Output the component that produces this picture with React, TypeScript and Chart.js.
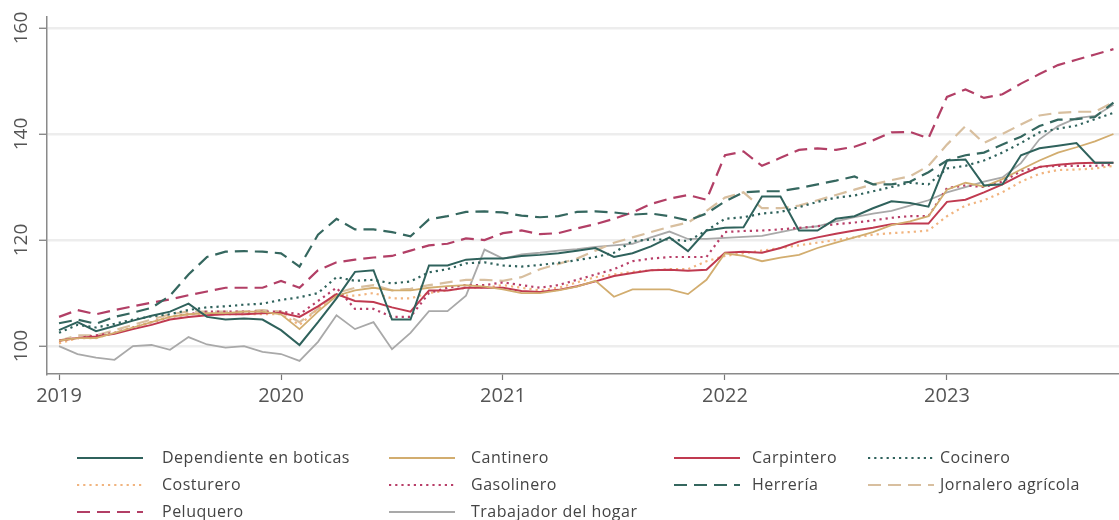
import React, { useEffect, useRef } from "react";
import { Chart, registerables } from "chart.js";

Chart.register(...registerables);

// ---- data ----
const firstYear = 2019;
const yearTicks = [2019, 2020, 2021, 2022, 2023];
const yTicks = [100, 120, 140, 160];

const seriesNames = [
  "Dependiente en boticas",
  "Cantinero",
  "Carpintero",
  "Cocinero",
  "Costurero",
  "Gasolinero",
  "Herrería",
  "Jornalero agrícola",
  "Peluquero",
  "Trabajador del hogar",
];

const dependiente = [
  103, 104.5, 102.8, 103.8, 104.8, 105.7, 106.5, 108, 105.5, 105,
  105.2, 105, 103, 100.2, 104.5, 109, 114, 114.3, 105, 105,
  115.2, 115.2, 116.3, 116.5, 116.5, 117, 117.2, 117.5, 118, 118.5,
  116.8, 117.5, 118.8, 120.5, 117.9, 121.8, 122.3, 122.4, 128.2, 128.2,
  121.8, 121.8, 124, 124.5, 126, 127.3, 127, 126.3, 135, 135.2,
  130.3, 130.5, 136, 137.3, 137.8, 138.3, 134.6, 134.6,
];
const cantinero = [
  101, 101.5, 101.5, 102.5, 103.5, 104.5, 105.5, 106, 106.2, 106.2,
  106.5, 106.5, 106, 103.2, 106.5, 109.5, 110.5, 111, 110.5, 110.5,
  111, 111.3, 111.5, 111.2, 110.7, 110, 110, 110.5, 111.2, 112.3,
  109.3, 110.7, 110.7, 110.7, 109.8, 112.5, 117.5, 117, 116, 116.7,
  117.2, 118.5, 119.5, 120.5, 121.5, 122.8, 123.5, 124.5, 129.5, 130.8,
  130.1, 131.5, 133.3, 135, 136.5, 137.5, 138.6, 140,
];
const carpintero = [
  101, 101.5, 101.8, 102.3, 103.2, 104, 105, 105.5, 105.8, 106,
  106, 106.2, 106.3, 105.5, 107.5, 109.8, 108.5, 108.3, 107.3, 106.5,
  110.5, 110.5, 111, 111, 111, 110.4, 110.2, 110.6, 111.3, 112.2,
  113.2, 113.8, 114.3, 114.4, 114.2, 114.4, 117.6, 117.8, 117.6, 118.5,
  119.7, 120.5, 121.2, 121.8, 122.3, 123, 123.1, 123.1, 127.2, 127.6,
  129, 130.5, 132.3, 133.8, 134.2, 134.5, 134.6, 134.6,
];
const cocinero = [
  102.5, 104, 103.5, 104.2, 105, 105.6, 106, 106.8, 107.3, 107.5,
  107.8, 108, 108.7, 109.2, 110, 113, 112.3, 112.5, 111.8, 112.2,
  113.9, 114.5, 115.6, 115.8, 115.2, 115, 115.3, 115.7, 116.2, 116.8,
  117.6, 119.8, 120.1, 120.1, 119.8, 121.8, 124, 124.3, 125, 125.3,
  126.2, 127.2, 128, 128.4, 129.2, 130, 130.8, 130.5, 133.5, 134,
  135, 136.5, 138.3, 140.3, 141, 141.6, 142.8, 144,
];
const costurero = [
  100.5, 101.5, 101.5, 102.5, 103.5, 104.5, 105.5, 106, 106, 106,
  106, 106, 106, 104, 107, 109.5, 109.5, 110, 109, 109,
  110, 110.5, 111, 111, 111.5, 111, 110.5, 111, 112, 113,
  113.5, 114, 114.3, 114.5, 114.5, 116, 117, 117.5, 118, 118.5,
  119, 119.5, 120, 120.5, 121, 121.3, 121.5, 121.8, 124.5, 126.5,
  127.5, 129, 131, 132.5, 133.2, 133.3, 133.5, 134,
];
const gasolinero = [
  101, 101.5, 102, 102.5, 103.5, 104.5, 105.5, 106, 106.5, 106.5,
  106.5, 106.5, 106.5, 106, 108.5, 111, 107, 107, 105.5, 105.5,
  110, 111, 111.5, 111.5, 112, 111.5, 111, 111.5, 112.5, 113.5,
  114.5, 116, 116.5, 116.8, 116.8, 116.8, 121.5, 121.7, 121.8, 122,
  122.3, 122.6, 123, 123.3, 123.7, 124.2, 124.5, 124.5, 129.8, 130.3,
  130, 131, 133, 133.8, 134, 134, 134, 134.2,
];
const herreria = [
  104.3, 105, 104.2, 105.5, 106.3, 107.2, 109.5, 113.5, 116.8, 117.8,
  117.9, 117.8, 117.5, 115, 121, 124, 122, 122, 121.5, 120.7,
  123.9, 124.5, 125.3, 125.4, 125.2, 124.6, 124.3, 124.5, 125.3, 125.4,
  125.2, 124.8, 125, 124.5, 123.7, 125, 127.3, 129, 129.2, 129.2,
  129.8, 130.5, 131.2, 132, 130.5, 130.5, 131, 132.8, 135, 136,
  136.5, 138, 139.5, 141.5, 142.7, 142.8, 143.2, 145.9,
];
const jornalero = [
  101, 102, 102, 103, 104, 105, 106, 106.5, 106.5, 106.5,
  106.5, 106.8, 106.5, 104.5, 107, 110, 111, 111.5, 110.5, 110.8,
  111.5, 112, 112.5, 112.5, 112.3, 113, 114.5, 115.5, 116.5, 118,
  119.5, 120.5, 121.5, 122.5, 123.3, 125.5, 128, 129, 126, 126,
  126.5, 127.5, 128.5, 129.5, 130.5, 131.3, 132, 134, 138, 141.5,
  138.3, 140, 141.8, 143.5, 144, 144.2, 144.2, 146,
];
const peluquero = [
  105.5, 106.8, 106, 106.8, 107.5, 108.2, 108.8, 109.6, 110.3, 111,
  111, 111, 112.3, 111, 114.3, 115.8, 116.3, 116.7, 117, 118,
  119, 119.3, 120.3, 120, 121.3, 121.8, 121.1, 121.3, 122.2, 123,
  124, 125.2, 126.8, 127.8, 128.5, 127.6, 136, 136.7, 134, 135.5,
  137, 137.3, 137, 137.6, 138.8, 140.3, 140.4, 139.2, 147, 148.4,
  146.8, 147.5, 149.5, 151.3, 153, 154, 155, 156,
];
const trabajador = [
  100, 98.5, 97.8, 97.4, 100, 100.2, 99.3, 101.7, 100.3, 99.7,
  100, 98.9, 98.5, 97.2, 100.8, 105.8, 103.2, 104.5, 99.4, 102.5,
  106.6, 106.6, 109.5, 118.2, 116.5, 117.3, 117.6, 118, 118.3, 118.7,
  119, 119.3, 120.5, 121.6, 120.2, 120.2, 120.4, 120.6, 120.8, 121.5,
  122.2, 122.6, 123.5, 124.3, 125, 125.5, 126.5, 127.5, 129, 130,
  131, 131.8, 134.5, 139, 141.5, 143, 143.4, 145.5,
];

const seriesValues = [
  dependiente, cantinero, carpintero, cocinero, costurero,
  gasolinero, herreria, jornalero, peluquero, trabajador,
];

// ---- styles ----
const TEAL = "#2f625c";
const seriesColors = [
  TEAL, "#d2ad6f", "#c03a50", TEAL, "#f1b47f",
  "#b83e68", "#35675f", "#d8bf9f", "#b23f66", "#a9a9a9",
];
const LONG = [13, 7];
const DOT = [2.2, 4];
const seriesDash = [[], [], [], DOT, DOT, DOT, LONG, LONG, LONG, []];
const seriesWidth = [2, 1.8, 2, 2.2, 2.2, 2.2, 2.2, 2.2, 2.2, 1.8];

const FONT = '"Open Sans", "DejaVu Sans", sans-serif';
const legendLineX = [77, 389, 674, 868];
const legendTextX = [162, 471, 752, 940];
const legendRowY = [458, 485, 512];

const overlay = {
  id: "overlay",
  afterDraw(chart: any) {
    const ctx = chart.ctx as any;
    const ys = chart.scales.y;
    ctx.save();
    ctx.fillStyle = "#555555";
    ctx.font = `19px ${FONT}`;
    ctx.textAlign = "center";
    ctx.textBaseline = "middle";
    for (const v of yTicks) {
      const py = ys.getPixelForValue(v);
      ctx.save();
      ctx.translate(22, py);
      ctx.rotate(-Math.PI / 2);
      ctx.fillText(String(v), 0, 0);
      ctx.restore();
    }
    chart.data.datasets.forEach((ds: any, k: number) => {
      const row = Math.floor(k / 4);
      const col = k % 4;
      const y = legendRowY[row];
      const x0 = legendLineX[col];
      ctx.beginPath();
      ctx.setLineDash(ds.borderDash || []);
      ctx.strokeStyle = ds.borderColor;
      ctx.lineWidth = ds.borderWidth;
      ctx.moveTo(x0, y);
      ctx.lineTo(x0 + 66, y);
      ctx.stroke();
      ctx.setLineDash([]);
      ctx.fillStyle = "#444444";
      ctx.font = `16px ${FONT}`;
      if ("letterSpacing" in ctx) ctx.letterSpacing = "0.5px";
      ctx.textAlign = "left";
      ctx.textBaseline = "middle";
      ctx.fillText(ds.label, legendTextX[col], y);
      if ("letterSpacing" in ctx) ctx.letterSpacing = "0px";
    });
    ctx.restore();
  },
};

export default function App() {
  const ref = useRef<HTMLCanvasElement | null>(null);

  useEffect(() => {
    document.body.style.margin = "0";
    const canvas = ref.current;
    if (!canvas) return;
    const datasets = seriesNames.map((name, k) => ({
      label: name,
      data: seriesValues[k].map((v, i) => ({ x: i, y: v })),
      borderColor: seriesColors[k],
      backgroundColor: seriesColors[k],
      borderDash: seriesDash[k],
      borderWidth: seriesWidth[k],
      pointRadius: 0,
      tension: 0,
      fill: false,
    }));
    const chart = new Chart(canvas, {
      type: "line",
      data: { datasets },
      options: {
        animation: false,
        responsive: false,
        layout: { padding: { top: 17, right: 0, bottom: 100, left: 0 } },
        plugins: { legend: { display: false }, tooltip: { enabled: false } },
        scales: {
          x: {
            type: "linear",
            min: -0.65,
            max: 57.3,
            afterBuildTicks: (s: any) => {
              s.ticks = yearTicks.map((y) => ({ value: (y - firstYear) * 12 }));
            },
            afterFit: (s: any) => {
              s.height = 46;
            },
            ticks: {
              autoSkip: false,
              maxRotation: 0,
              minRotation: 0,
              padding: 4,
              color: "#555555",
              font: { family: FONT, size: 20 },
              callback: (v: any) => String(firstYear + Math.round(Number(v) / 12)),
            },
            grid: {
              display: true,
              drawOnChartArea: false,
              drawTicks: true,
              tickLength: 6,
              tickColor: "#777777",
              tickWidth: 1.2,
            },
            border: { display: true, color: "#8a8a8a", width: 1.5 },
          },
          y: {
            type: "linear",
            min: 94.73,
            max: 162.07,
            afterBuildTicks: (s: any) => {
              s.ticks = yTicks.map((v) => ({ value: v }));
            },
            afterFit: (s: any) => {
              s.width = 47;
            },
            ticks: { display: false },
            grid: {
              display: true,
              color: "#ededed",
              lineWidth: 2.5,
              drawTicks: true,
              tickLength: 8,
              tickColor: "#777777",
              tickWidth: 1.2,
            },
            border: { display: true, color: "#8a8a8a", width: 1.5 },
          },
        },
      },
      plugins: [overlay],
    });
    return () => chart.destroy();
  }, []);

  return (
    <div style={{ width: 1119, height: 520 }}>
      <canvas ref={ref} width={1119} height={520} style={{ display: "block" }} />
    </div>
  );
}
